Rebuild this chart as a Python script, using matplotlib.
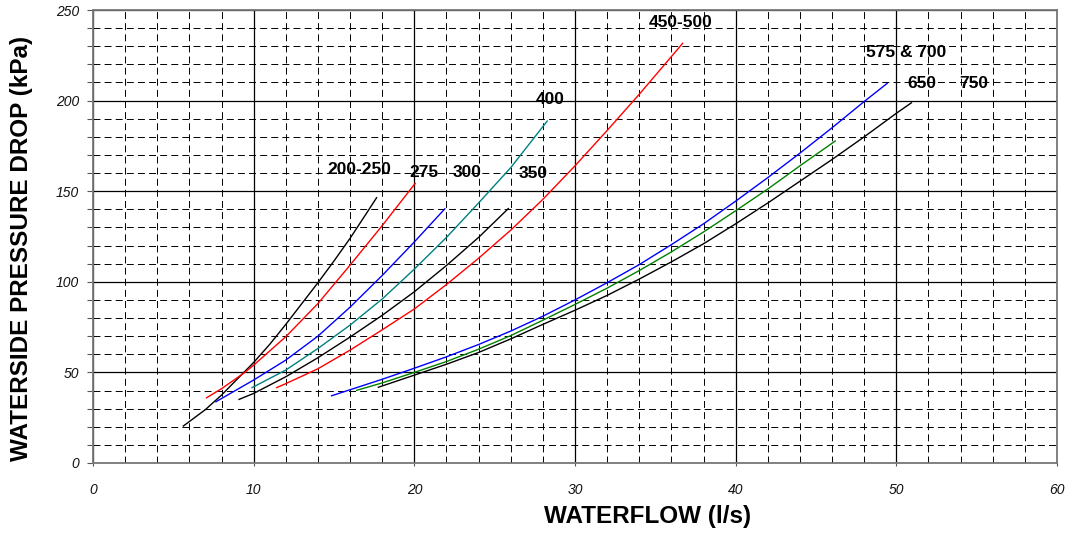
import matplotlib
matplotlib.use("Agg")
import matplotlib.pyplot as plt
from matplotlib.ticker import MultipleLocator

plt.rcParams['font.family'] = ['Liberation Sans', 'DejaVu Sans']
plt.rcParams['lines.scale_dashes'] = False

# ---- data ----
q_200_250 = [5.62, 7.0, 8.0, 9.0, 10.0, 11.0, 12.0, 13.0, 14.0, 15.0, 16.0, 17.0, 17.65]
p_200_250 = [20.4, 29.5, 37.5, 46.5, 55.5, 65.5, 76.5, 88.0, 99.5, 111.5, 124.0, 137.5, 146.4]

q_275 = [7.07, 8.0, 9.4, 10.0, 12.0, 14.0, 16.0, 18.0, 20.05]
p_275 = [36.0, 41.0, 49.7, 54.0, 69.7, 88.0, 109.2, 131.0, 154.3]

q_300 = [7.65, 10.0, 12.0, 14.0, 16.0, 18.0, 20.0, 21.9]
p_300 = [33.8, 45.8, 56.8, 70.0, 86.0, 103.5, 122.0, 140.3]

q_400 = [9.9, 12.0, 14.0, 16.0, 18.0, 20.0, 22.0, 24.0, 26.0, 28.27]
p_400 = [41.6, 51.3, 63.2, 76.1, 90.5, 107.0, 124.5, 143.5, 163.0, 188.7]

q_350 = [9.09, 10.0, 12.0, 14.0, 16.0, 18.0, 20.0, 22.0, 24.0, 25.85]
p_350 = [35.1, 38.4, 47.6, 58.1, 69.5, 81.5, 94.5, 109.0, 124.5, 140.4]

q_450_500 = [11.43, 12.0, 14.0, 16.0, 18.0, 20.0, 22.0, 24.0, 26.0, 28.0, 30.0, 32.0, 34.0, 36.0, 36.7]
p_450_500 = [41.6, 43.8, 52.0, 62.3, 73.5, 85.0, 98.5, 113.0, 128.5, 145.5, 164.0, 183.5, 203.5, 224.3, 231.6]

q_575_700 = [14.85, 18.0, 20.0, 22.0, 24.0, 26.0, 28.0, 30.0, 32.0, 34.0, 36.0, 38.0, 40.0, 42.0, 44.0, 46.0, 48.0, 49.43]
p_575_700 = [37.1, 46.2, 52.3, 58.6, 65.4, 72.8, 81.0, 90.0, 99.5, 109.5, 120.5, 132.0, 144.5, 157.5, 171.0, 185.0, 199.5, 209.5]

q_650 = [16.41, 18.0, 20.0, 22.0, 24.0, 26.0, 28.0, 30.0, 32.0, 34.0, 36.0, 38.0, 40.0, 42.0, 44.0, 46.2]
p_650 = [40.1, 44.2, 50.0, 56.0, 62.8, 70.3, 78.8, 87.5, 96.5, 106.2, 116.5, 127.5, 139.2, 151.2, 164.0, 177.7]

q_750 = [17.76, 20.0, 22.0, 24.0, 26.0, 28.0, 30.0, 32.0, 34.0, 36.0, 38.0, 40.0, 42.0, 44.0, 46.0, 48.0, 50.0, 50.94]
p_750 = [41.8, 48.5, 54.5, 61.0, 68.5, 76.5, 84.3, 92.5, 101.5, 111.0, 121.0, 132.0, 143.5, 155.5, 167.5, 180.0, 193.0, 198.8]

series = [
    (q_200_250, p_200_250, 'black'),
    (q_275, p_275, '#ff0000'),
    (q_300, p_300, '#0000ff'),
    (q_400, p_400, '#008080'),
    (q_350, p_350, 'black'),
    (q_450_500, p_450_500, '#ff0000'),
    (q_575_700, p_575_700, '#0000ff'),
    (q_650, p_650, '#008000'),
    (q_750, p_750, 'black'),
]

label_texts = ['200-250', '275', '300', '350', '400', '450-500', '575 & 700', '650', '750']
label_x = [16.56, 20.6, 23.3, 27.4, 28.45, 36.6, 50.6, 51.6, 54.8]
label_y = [161.7, 160.2, 160.2, 160.0, 200.7, 243.0, 226.4, 209.5, 209.5]

x_ticks = [0, 10, 20, 30, 40, 50, 60]
y_ticks = [0, 50, 100, 150, 200, 250]

# ---- figure ----
W, H = 1068, 535
fig = plt.figure(figsize=(W / 100, H / 100), dpi=100)
ax = fig.add_axes([93 / W, 1 - 463 / H, (1057 - 93) / W, (463 - 10) / H])

ax.set_xlim(0, 60)
ax.set_ylim(0, 250)
ax.set_xticks(x_ticks)
ax.set_yticks(y_ticks)
ax.xaxis.set_minor_locator(MultipleLocator(2))
ax.yaxis.set_minor_locator(MultipleLocator(10))

ax.grid(which='minor', color='black', linestyle=(0, (5, 3)), linewidth=0.7)
ax.grid(which='major', color='black', linestyle='-', linewidth=0.9)
ax.set_axisbelow(True)

for s in ax.spines.values():
    s.set_color('#777777')
    s.set_linewidth(1.3)

ax.tick_params(axis='y', which='both', direction='out', length=4, width=0.8,
               color='#555555', pad=6)
ax.tick_params(axis='y', which='minor', length=4)
ax.tick_params(axis='x', which='major', direction='out', length=2.5, width=0.8,
               color='#555555', pad=12)
ax.tick_params(axis='x', which='minor', length=0)
for lab in ax.get_xticklabels() + ax.get_yticklabels():
    lab.set_fontstyle('italic')
    lab.set_fontsize(10)
    lab.set_color('#111111')

for q, p, c in series:
    ax.plot(q, p, color=c, linewidth=1.0)

for t, x, y in zip(label_texts, label_x, label_y):
    ax.text(x, y, t, ha='center', va='center', fontsize=12.5, fontweight='bold')

fig.text(22 / W, 1 - 248 / H, 'WATERSIDE PRESSURE DROP (kPa)', rotation=90,
         ha='center', va='center', fontsize=17.5, fontweight='bold')
fig.text(648 / W, 1 - 517 / H, 'WATERFLOW (l/s)', ha='center', va='center',
         fontsize=17.5, fontweight='bold')

fig.savefig('out.png', dpi=100)
